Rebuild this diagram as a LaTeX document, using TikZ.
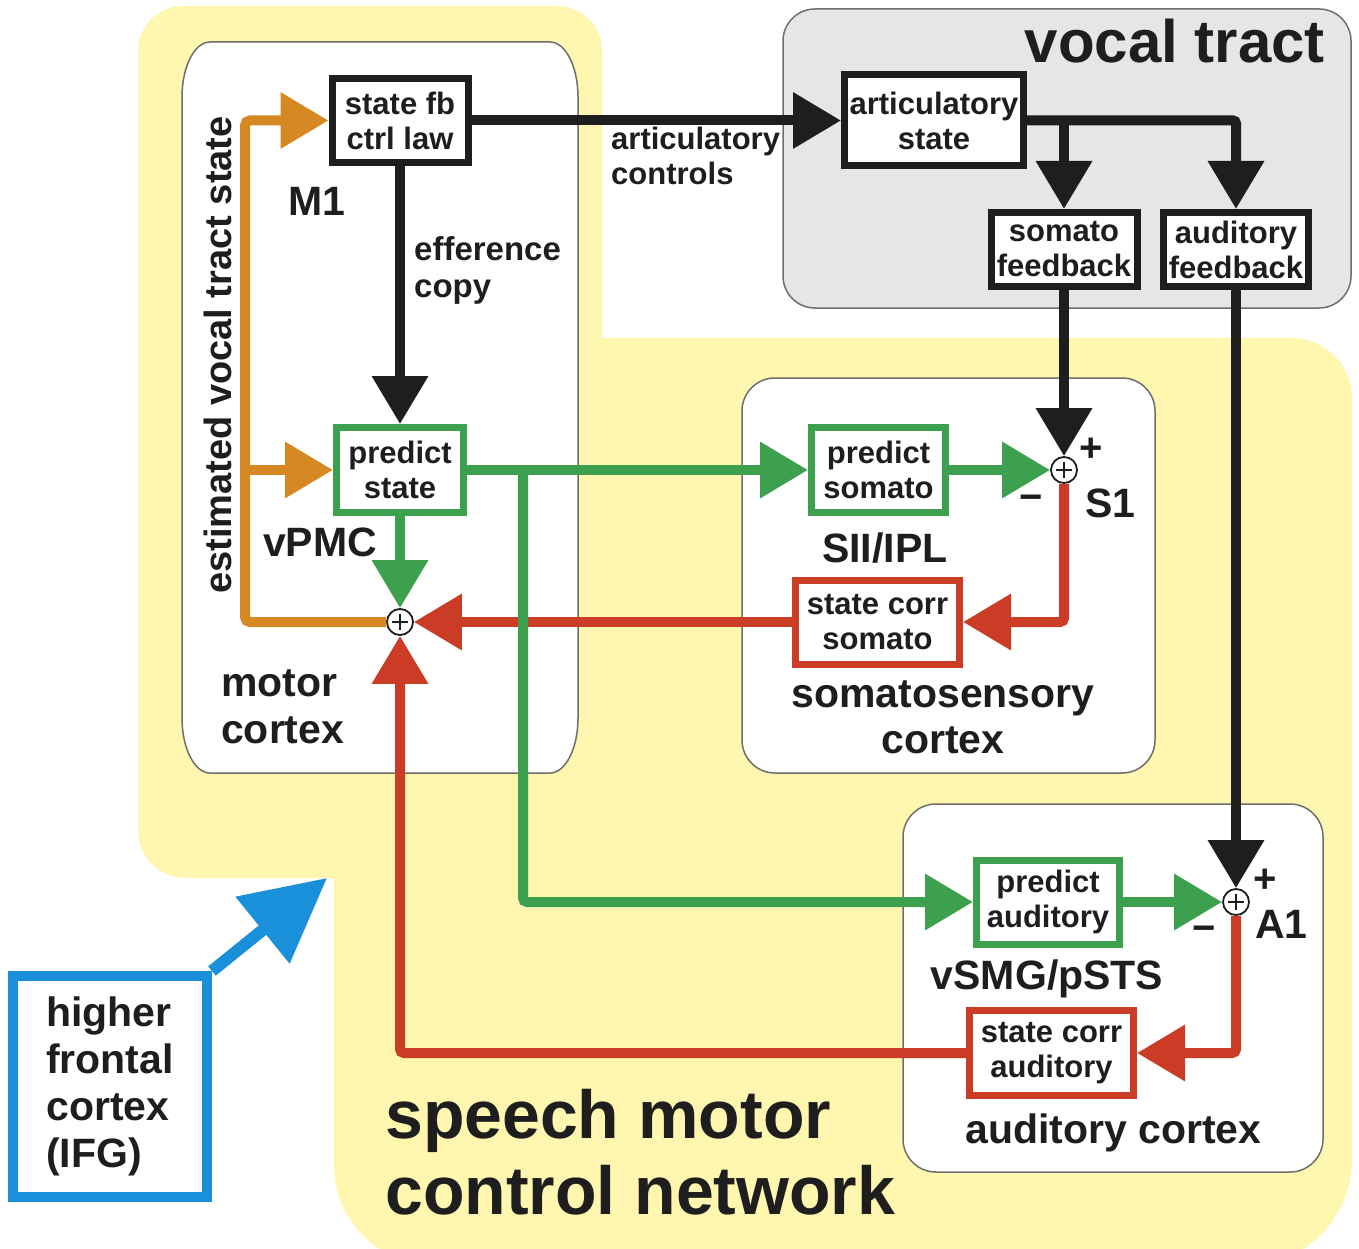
\documentclass[tikz,border=0pt]{standalone}
\usepackage{fontspec}
\setmainfont{Liberation Sans}
\usetikzlibrary{arrows.meta,calc}
\definecolor{ylw}{RGB}{255,246,176}
\definecolor{org}{RGB}{214,136,34}
\definecolor{grn}{RGB}{60,160,78}
\definecolor{rd}{RGB}{202,60,38}
\definecolor{blu}{RGB}{26,144,218}
\definecolor{ink}{RGB}{30,30,30}
\definecolor{vtgray}{RGB}{230,230,230}
\definecolor{edgegray}{RGB}{110,110,110}
\newcommand{\myfs}[2]{\fontsize{#1}{#2}\selectfont\bfseries}
\begin{document}
\begin{tikzpicture}[x=1pt,y=1pt,
  tip/.style={-{Triangle[length=48pt,width=54pt]}},
  conn/.style={line width=10pt},
  boxbase/.style={rectangle, fill=white, line width=7pt, inner sep=0pt, align=center, font={\myfs{31}{35}}, text=ink},
  kbox/.style={boxbase, draw=ink},
  gbox/.style={boxbase, draw=grn},
  rbox/.style={boxbase, draw=rd},
  lbl/.style={font={\myfs{41}{47}}, text=ink, inner sep=0pt},
  smlbl/.style={font={\myfs{31}{36}}, text=ink, inner sep=0pt},
  sgn/.style={font={\myfs{40}{44}}, text=ink, inner sep=0pt},
  sumnode/.style={circle, draw=ink, fill=white, line width=1.8pt, minimum size=26pt, inner sep=0pt,
    path picture={\draw[ink, line width=1.5pt] ([xshift=-8pt]path picture bounding box.center) -- ([xshift=8pt]path picture bounding box.center) ([yshift=-8pt]path picture bounding box.center) -- ([yshift=8pt]path picture bounding box.center);}},
  cortex/.style={fill=white, draw=edgegray, line width=1.5pt},
]
\useasboundingbox (0,0) rectangle (1359,-1249);
\fill[white] (0,0) rectangle (1359,-1249);
\begin{scope}
\clip (0,0) rectangle (1359,-1249);
% yellow network region
\fill[ylw] (138,-830) -- (138,-51) arc[start angle=180,end angle=90,radius=45pt]
  -- (557,-6) arc[start angle=90,end angle=0,radius=45pt]
  -- (602,-338) -- (1292,-338) arc[start angle=90,end angle=0,radius=60pt]
  -- (1352,-1160) arc[start angle=0,end angle=-90,radius=105pt]
  -- (434,-1265) arc[start angle=270,end angle=180,radius=100pt]
  -- (334,-878) -- (186,-878) arc[start angle=270,end angle=180,radius=48pt] -- cycle;
\end{scope}
% motor cortex area
\path[cortex] (182,-97) arc[start angle=180,end angle=90,x radius=28pt,y radius=55pt]
  -- (550,-42) arc[start angle=90,end angle=0,x radius=28pt,y radius=55pt]
  -- (578,-718) arc[start angle=0,end angle=-90,x radius=28pt,y radius=55pt]
  -- (210,-773) arc[start angle=270,end angle=180,x radius=28pt,y radius=55pt] -- cycle;
% somatosensory and auditory cortex areas
\path[cortex, rounded corners=33pt] (742,-378) rectangle (1155,-773);
\path[cortex, rounded corners=33pt] (903,-804) rectangle (1323,-1172);
% vocal tract
\path[fill=vtgray, draw=edgegray, line width=1.5pt, rounded corners=32pt] (783,-9) rectangle (1351,-308);

% boxes
\node[kbox, minimum width=136pt, minimum height=84pt] (sfb) at (400,-120.5) {state fb\\ctrl law};
\node[kbox, minimum width=179pt, minimum height=91pt] (art) at (934,-120.5) {articulatory\\state};
\node[kbox, minimum width=146pt, minimum height=74pt] (somfb) at (1064,-249.5) {somato\\feedback};
\node[kbox, minimum width=145pt, minimum height=74pt] (audfb) at (1236,-249.5) {auditory\\feedback};
\node[gbox, minimum width=127pt, minimum height=85pt] (ps) at (400,-470) {predict\\state};
\node[gbox, minimum width=134pt, minimum height=85pt] (psom) at (878.5,-470) {predict\\somato};
\node[rbox, minimum width=164pt, minimum height=84pt] (scs) at (877.5,-622) {state corr\\somato};
\node[gbox, minimum width=143pt, minimum height=84pt] (paud) at (1048,-902) {predict\\auditory};
\node[rbox, minimum width=164pt, minimum height=85pt] (sca) at (1051.5,-1053) {state corr\\auditory};
\node[sumnode] (sum) at (400,-622) {};
\node[sumnode] (s1) at (1064,-470) {};
\node[sumnode] (a1) at (1236,-902) {};
\node[rectangle, draw=blu, line width=10pt, fill=white, minimum width=194pt, minimum height=221pt,
  align=left, font={\myfs{41}{47}}, text=ink, inner sep=0pt] (ifg) at (110,-1086.5) {higher\\frontal\\cortex\\(IFG)};

% waypoints
\coordinate (obot) at (245,-622);
\coordinate (otop) at (245,-120.5);
\coordinate (gsplit) at (523,-470);
\coordinate (ifgtip) at (327,-878);

% black connectors
\draw[conn, ink, tip] (sfb.east) -- (art.west);
\draw[conn, ink, tip] (sfb.south) -- (ps.north);
\draw[conn, ink, tip, rounded corners=3pt] (art.east) -| (audfb.north);
\draw[conn, ink, tip] (art.east -| somfb.north) -- (somfb.north);
\draw[conn, ink, tip] (somfb.south) -- (s1.north);
\draw[conn, ink, tip] (audfb.south) -- (a1.north);
% red connectors
\draw[conn, rd, tip, rounded corners=4pt] (s1.south) |- (scs.east);
\draw[conn, rd, tip] (scs.west) -- (sum.east);
\draw[conn, rd, tip, rounded corners=4pt] (a1.south) |- (sca.east);
\draw[conn, rd, tip, rounded corners=4pt] (sca.west) -| (sum.south);
% green connectors
\draw[conn, grn, tip] (ps.south) -- (sum.north);
\draw[conn, grn, tip] (ps.east) -- (psom.west);
\draw[conn, grn, tip, rounded corners=4pt] (gsplit) |- (paud.west);
\draw[conn, grn, tip] (psom.east) -- (s1.west);
\draw[conn, grn, tip] (paud.east) -- (a1.west);
% orange connectors
\draw[conn, org, tip, rounded corners=5pt] (sum.west) -- (obot) -- (otop) -- (sfb.west);
\draw[conn, org, tip] (obot |- ps.west) -- (ps.west);
% blue connector
\draw[line width=12pt, blu, -{Triangle[length=83pt,width=83pt]}] (ifg.north east) -- (ifgtip);

% labels
\node[lbl, anchor=base west] (m1) at (288,-216) {M1};
\node[font={\myfs{33}{38}}, text=ink, inner sep=0pt, anchor=base west] (eff1) at (414,-261) {efference};
\node[font={\myfs{33}{38}}, text=ink, inner sep=0pt, anchor=base west] (eff2) at (414,-297) {copy};
\node[smlbl, anchor=base west] (ac1) at (611,-150) {articulatory};
\node[smlbl, anchor=base west] (ac2) at (611,-185) {controls};
\node[font={\myfs{60}{66}}, text=ink, inner sep=0pt, anchor=base east] (vt) at (1325,-63) {vocal tract};
\node[font={\myfs{38}{44}}, text=ink, inner sep=0pt, anchor=base, rotate=90] (evts) at (231,-355) {estimated vocal tract state};
\node[lbl, anchor=base west] (vpmc) at (263,-556) {vPMC};
\node[lbl, anchor=base west] (mot1) at (221,-696) {motor};
\node[lbl, anchor=base west] (mot2) at (221,-743) {cortex};
\node[lbl, anchor=base west] (sii) at (822,-562) {SII/IPL};
\node[lbl, anchor=base west] (s1l) at (1085,-517) {S1};
\node[sgn] (s1p) at (1091,-450) {+};
\node[sgn] (s1m) at (1031,-503) {−};
\node[lbl, anchor=base] (som1) at (943,-707) {somatosensory};
\node[lbl, anchor=base] (som2) at (943,-753) {cortex};
\node[lbl, anchor=base] (vsmg) at (1047,-989) {vSMG/pSTS};
\node[lbl, anchor=base west] (a1l) at (1255,-938) {A1};
\node[sgn] (a1p) at (1265,-881) {+};
\node[sgn] (a1m) at (1204,-934) {−};
\node[lbl, anchor=base west] (audc) at (965,-1143) {auditory cortex};
\node[font={\myfs{68}{76}}, text=ink, inner sep=0pt, anchor=base west] (smc1) at (385,-1138) {speech motor};
\node[font={\myfs{68}{76}}, text=ink, inner sep=0pt, anchor=base west] (smc2) at (385,-1214) {control network};
\end{tikzpicture}
\end{document}
